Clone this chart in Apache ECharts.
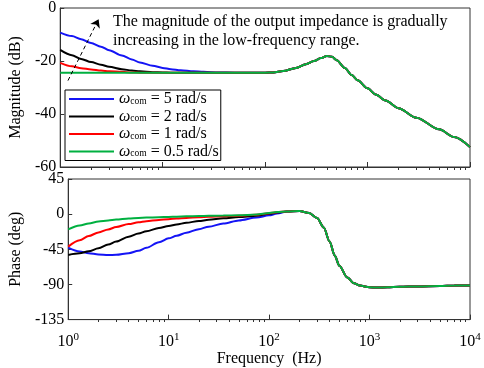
<!DOCTYPE html>
<html>
<head>
<meta charset="utf-8">
<script src="https://cdn.jsdelivr.net/npm/echarts@6/dist/echarts.min.js"></script>
<style>
html, body { margin: 0; padding: 0; background: #fff; }
#main { width: 484px; height: 368px; }
</style>
</head>
<body>
<div id="main"></div>
<script>
// frequency points (Hz): low part differs per curve, tail part is shared
var freqLow  = [1, 1.3, 1.6, 2, 2.5, 3, 4, 5, 6, 8, 10, 12, 15, 20, 25, 35, 50, 75, 100, 120];
var freqTail = [150, 200, 250, 300, 350, 400, 450, 500, 600, 700, 800, 1000, 1200, 1500, 2000, 3000, 5000, 7000, 10000];

// magnitude (dB)
var magBlue  = [-9.3, -10.6, -11.8, -13.2, -14.6, -15.9, -17.9, -19.4, -20.6, -21.8, -22.6, -23.1, -23.5, -23.9, -24.1, -24.3, -24.4, -24.4, -24.4, -24.3];
var magBlack = [-15.8, -17.8, -19.2, -20.4, -21.4, -22.2, -23.1, -23.6, -23.9, -24.2, -24.3, -24.4, -24.4, -24.4, -24.4, -24.4, -24.4, -24.4, -24.4, -24.3];
var magRed   = [-20.7, -22.0, -22.7, -23.2, -23.6, -23.9, -24.1, -24.3, -24.4, -24.4, -24.4, -24.4, -24.4, -24.4, -24.4, -24.4, -24.4, -24.4, -24.4, -24.3];
var magGreen = [-24.4, -24.4, -24.4, -24.4, -24.4, -24.4, -24.4, -24.4, -24.4, -24.4, -24.4, -24.4, -24.4, -24.4, -24.4, -24.4, -24.4, -24.4, -24.4, -24.3];
var magTail  = [-23.8, -22.6, -21.2, -20.0, -18.9, -18.1, -18.4, -19.7, -22.6, -25.3, -27.3, -30.3, -32.6, -34.9, -37.8, -41.4, -45.8, -48.7, -52.5];

// phase (deg)
var phBlue  = [-42.8, -47.8, -50, -51.6, -52.2, -52.1, -50, -47, -43, -36, -31, -27.7, -23.8, -19.2, -16, -12, -8, -4.3, -1.5, 0.8];
var phBlack = [-52.2, -50.2, -47.5, -43.8, -39, -35, -28.8, -24.8, -21.8, -17.8, -15.2, -13.2, -11, -8.8, -7.3, -5.4, -3.8, -2.0, 0.5, 2];
var phRed   = [-41.6, -33.5, -28, -23.5, -19.5, -16.5, -12.7, -10.4, -9.0, -7.4, -6.4, -5.6, -4.8, -4.0, -3.4, -2.6, -2.0, -0.8, 1.2, 2.4];
var phGreen = [-19.5, -14.5, -12, -9.4, -8.2, -7, -5.5, -4.8, -4.4, -3.9, -3.5, -3.2, -2.8, -2.4, -2.1, -1.7, -1.5, -0.5, 1.5, 2.6];
var phTail  = [3.5, 4, 1.5, -5, -17, -35, -53, -66, -81, -88.5, -91.5, -93.5, -94, -93.5, -93, -92.5, -92, -91.5, -91.3];

var omegaLabels = ['5', '2', '1', '0.5'];
var colors = ['#1414f5', '#000000', '#ff0000', '#00b040'];
var majorTicks = [1, 10, 100, 1000, 10000];
var minorTicks = [];
for (var d = 1; d < 10000; d *= 10) {
    for (var m = 2; m <= 9; m++) minorTicks.push(m * d);
}

var magAll = [magBlue, magBlack, magRed, magGreen];
var phAll = [phBlue, phBlack, phRed, phGreen];
var freq = freqLow.concat(freqTail);

function pairs(low, tail) {
    var ys = low.concat(tail);
    return freq.map(function (f, i) { return [f, ys[i]]; });
}

var fontFam = '"Liberation Serif", "DejaVu Serif", serif';
var gridH = [162, 143];

function xAxisCfg(grid, showLabel) {
    return {
        type: 'log',
        logBase: 10,
        gridIndex: grid,
        min: 1,
        max: 10000,
        position: 'bottom',
        axisLine: { onZero: false, lineStyle: { color: '#333' } },
        axisTick: { inside: true, length: 5, customValues: majorTicks, lineStyle: { color: '#333' } },
        splitLine: { show: false },
        axisLabel: {
            show: showLabel,
            customValues: majorTicks,
            fontFamily: fontFam,
            fontSize: 16,
            color: '#000',
            margin: 12,
            formatter: function (v) {
                return '10{sup|' + Math.round(Math.log10(v)) + '}';
            },
            rich: { sup: { fontSize: 11, fontFamily: fontFam, color: '#000', padding: [0, 0, 10, 0] } }
        },
        name: showLabel ? 'Frequency  (Hz)' : '',
        nameLocation: 'middle',
        nameGap: 31,
        nameTextStyle: { fontFamily: fontFam, fontSize: 16, color: '#000' }
    };
}

// minor ticks: a 'top' axis pushed down onto the bottom edge, ticks pointing up
function xMinorCfg(grid) {
    return {
        type: 'log',
        logBase: 10,
        gridIndex: grid,
        min: 1,
        max: 10000,
        position: 'top',
        offset: -gridH[grid],
        axisLine: { show: false, onZero: false },
        axisTick: { inside: false, length: 3, customValues: minorTicks, lineStyle: { color: '#333' } },
        axisLabel: { show: false },
        splitLine: { show: false }
    };
}

function yAxisCfg(grid, min, max, step, name, gap) {
    return {
        type: 'value',
        gridIndex: grid,
        min: min,
        max: max,
        interval: step,
        axisLine: { show: true, onZero: false, lineStyle: { color: '#333' } },
        axisTick: { show: true, inside: true, length: 4, lineStyle: { color: '#333' } },
        splitLine: { show: false },
        axisLabel: { fontFamily: fontFam, fontSize: 16, color: '#000', margin: 4 },
        name: name,
        nameLocation: 'middle',
        nameGap: gap,
        nameTextStyle: { fontFamily: fontFam, fontSize: 16, color: '#000' }
    };
}

var legendIcon = 'path://M0,0 L0,0 M0,6 L45,6 L45,8 L0,8 Z M45,14 L45,14';

var series = [];
for (var k = 0; k < 4; k++) {
    series.push({
        name: 'w' + k,
        type: 'line',
        xAxisIndex: 0,
        yAxisIndex: 0,
        data: pairs(magAll[k], magTail),
        smooth: 0.3,
        smoothMonotone: 'x',
        symbol: 'none',
        lineStyle: { color: colors[k], width: 2 },
        itemStyle: { color: colors[k] }
    });
}
for (var k = 0; k < 4; k++) {
    series.push({
        name: 'w' + k,
        type: 'line',
        xAxisIndex: 1,
        yAxisIndex: 1,
        data: pairs(phAll[k], phTail),
        smooth: 0.3,
        smoothMonotone: 'x',
        symbol: 'none',
        lineStyle: { color: colors[k], width: 2 },
        itemStyle: { color: colors[k] }
    });
}

// dashed arrow in the magnitude plot
series.push({
    type: 'line',
    xAxisIndex: 0,
    yAxisIndex: 0,
    data: [],
    markLine: {
        silent: true,
        symbol: ['none', 'arrow'],
        symbolSize: 8,
        label: { show: false },
        lineStyle: { color: '#000', type: [4, 3], width: 1 },
        data: [[{ coord: [1.19, -27.4] }, { coord: [2.37, -4.2] }]]
    }
});

var option = {
    animation: false,
    backgroundColor: '#fff',
    grid: [
        { left: 54, right: 14, top: 5, height: gridH[0], show: true, borderColor: '#333', borderWidth: 1 },
        { left: 54, right: 14, top: 179, height: gridH[1], show: true, borderColor: '#333', borderWidth: 1 }
    ],
    xAxis: [xAxisCfg(0, false), xAxisCfg(1, true), xMinorCfg(0), xMinorCfg(1)],
    yAxis: [
        yAxisCfg(0, -60, 0, 20, 'Magnitude (dB)', 32),
        yAxisCfg(1, -135, 45, 45, 'Phase (deg)', 39)
    ],
    legend: {
        orient: 'vertical',
        left: 65,
        top: 90,
        padding: [1, 2, 1, 4],
        icon: legendIcon,
        itemWidth: 45,
        itemHeight: 14,
        itemGap: 1.5,
        backgroundColor: '#fff',
        borderColor: '#000',
        borderWidth: 1,
        borderRadius: 0,
        data: ['w0', 'w1', 'w2', 'w3'],
        formatter: function (name) {
            var i = +name.slice(1);
            return '{w|ω}{s|com}{t| = ' + omegaLabels[i] + ' rad/s}';
        },
        textStyle: {
            rich: {
                w: { fontFamily: fontFam, fontStyle: 'italic', fontSize: 16, color: '#000', lineHeight: 15 },
                s: { fontFamily: fontFam, fontSize: 9.5, color: '#000', lineHeight: 15, padding: [4, 0, 0, 0] },
                t: { fontFamily: fontFam, fontSize: 16, color: '#000', lineHeight: 15 }
            }
        }
    },
    graphic: [
        {
            type: 'text',
            left: 113,
            top: 12,
            style: {
                text: 'The magnitude of the output impedance is gradually\nincreasing in the low-frequency range.',
                font: '16px "Liberation Serif", serif',
                fill: '#000',
                lineHeight: 19
            }
        }
    ],
    series: series
};

var chart = echarts.init(document.getElementById('main'));
chart.setOption(option);
</script>
</body>
</html>
